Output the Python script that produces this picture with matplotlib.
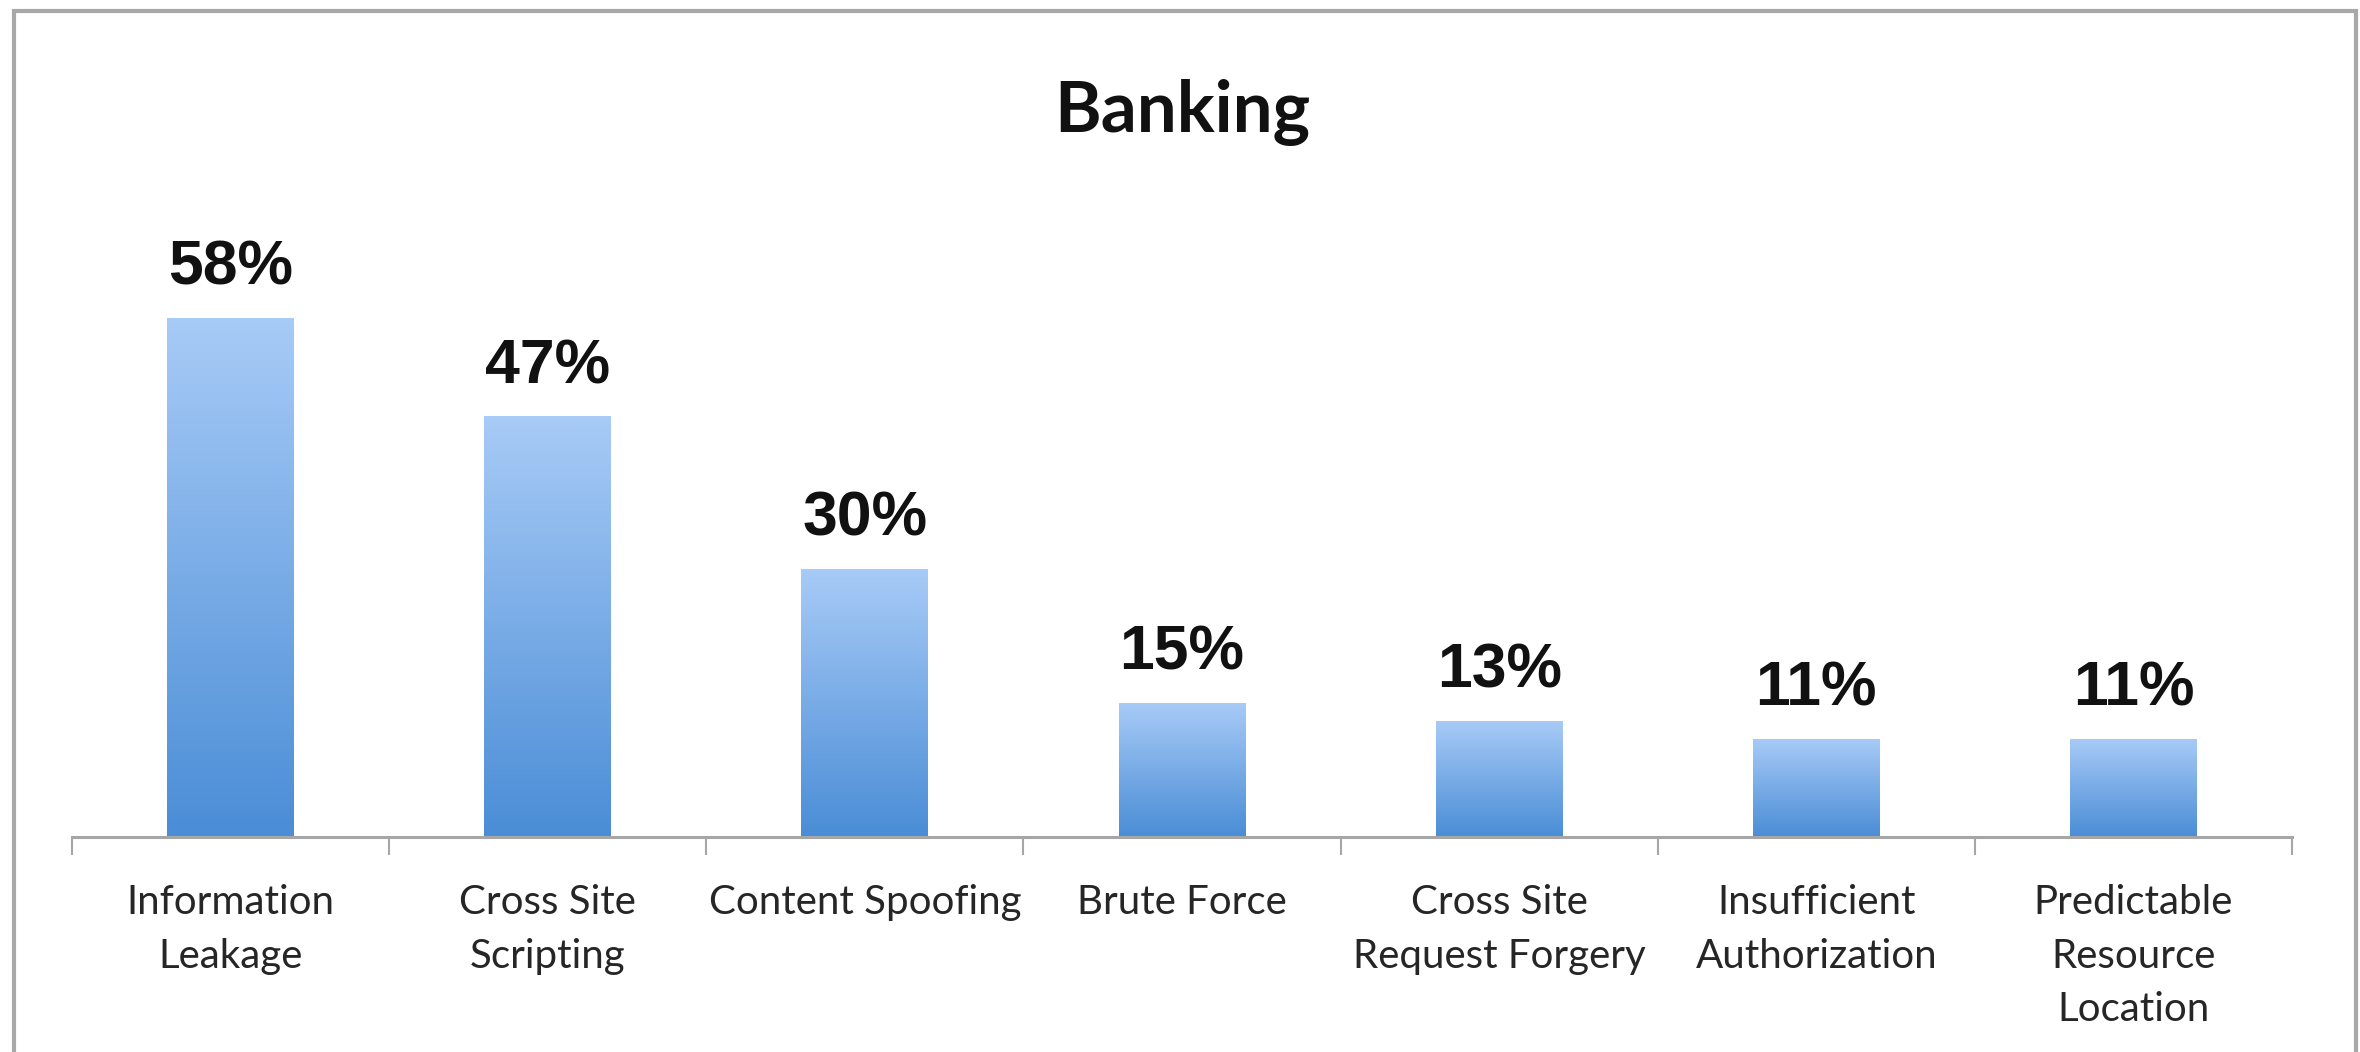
import numpy as np
from matplotlib import pyplot as plt
from matplotlib.patches import Rectangle
from matplotlib.colors import LinearSegmentedColormap

categories = ["Information\nLeakage", "Cross Site\nScripting", "Content Spoofing",
              "Brute Force", "Cross Site\nRequest Forgery", "Insufficient\nAuthorization",
              "Predictable\nResource\nLocation"]
values = [58, 47, 30, 15, 13, 11, 11]
labels = ["58%", "47%", "30%", "15%", "13%", "11%", "11%"]
title = "Banking"

fig = plt.figure(figsize=(23.6, 10.52), dpi=100)
ax = fig.add_axes([72 / 2360, 1 - 837 / 1052, (2292 - 72) / 2360, 537 / 1052])

x = np.arange(len(values))
bars = ax.bar(x, values, width=0.4, color="none", edgecolor="none")

# vertical gradient, light blue at top to darker blue at bottom
cmap = LinearSegmentedColormap.from_list("grad", ["#4a8dd6", "#a8cbf7"])
grad = np.linspace(0, 1, 256).reshape(-1, 1)
for b in bars:
    x0, w, h = b.get_x(), b.get_width(), b.get_height()
    im = ax.imshow(grad, cmap=cmap, origin="lower", aspect="auto",
                   extent=[x0, x0 + w, 0, h], zorder=2)
    im.set_clip_path(b)

for xi, v, lab in zip(x, values, labels):
    ax.annotate(lab, (xi, v), xytext=(0, 24), textcoords="offset points",
                ha="center", va="baseline", fontsize=45, fontweight="bold",
                family="Liberation Sans", color="#111111")

ax.set_xlim(-0.5, len(values) - 0.5)
ax.set_ylim(0, 60)

for s in ["top", "left", "right"]:
    ax.spines[s].set_visible(False)
ax.spines["bottom"].set_color("#a6a6a6")
ax.spines["bottom"].set_linewidth(2.2)
ax.set_yticks([])

ax.set_xticks(x)
ax.set_xticklabels(categories, fontsize=29, family="Lato", color="#262626",
                   linespacing=1.55)
ax.tick_params(axis="x", which="major", length=0, pad=34)
ax.set_xticks(np.arange(len(values) + 1) - 0.5, minor=True)
ax.tick_params(axis="x", which="minor", length=13, width=1.5, color="#a6a6a6",
               direction="out")

fig.text(1182 / 2360, 1 - 132 / 1052, title, ha="center", va="baseline",
         fontsize=51, fontweight="bold", family="Lato", color="#111111")

# light gray frame around the chart
fig.patches.append(Rectangle((14 / 2360, -0.05), (2356 - 14) / 2360, 1.05 - 11 / 1052,
                             transform=fig.transFigure, fill=False,
                             edgecolor="#a8a8a8", linewidth=3))

fig.savefig("out.png", dpi=100, facecolor="white")
